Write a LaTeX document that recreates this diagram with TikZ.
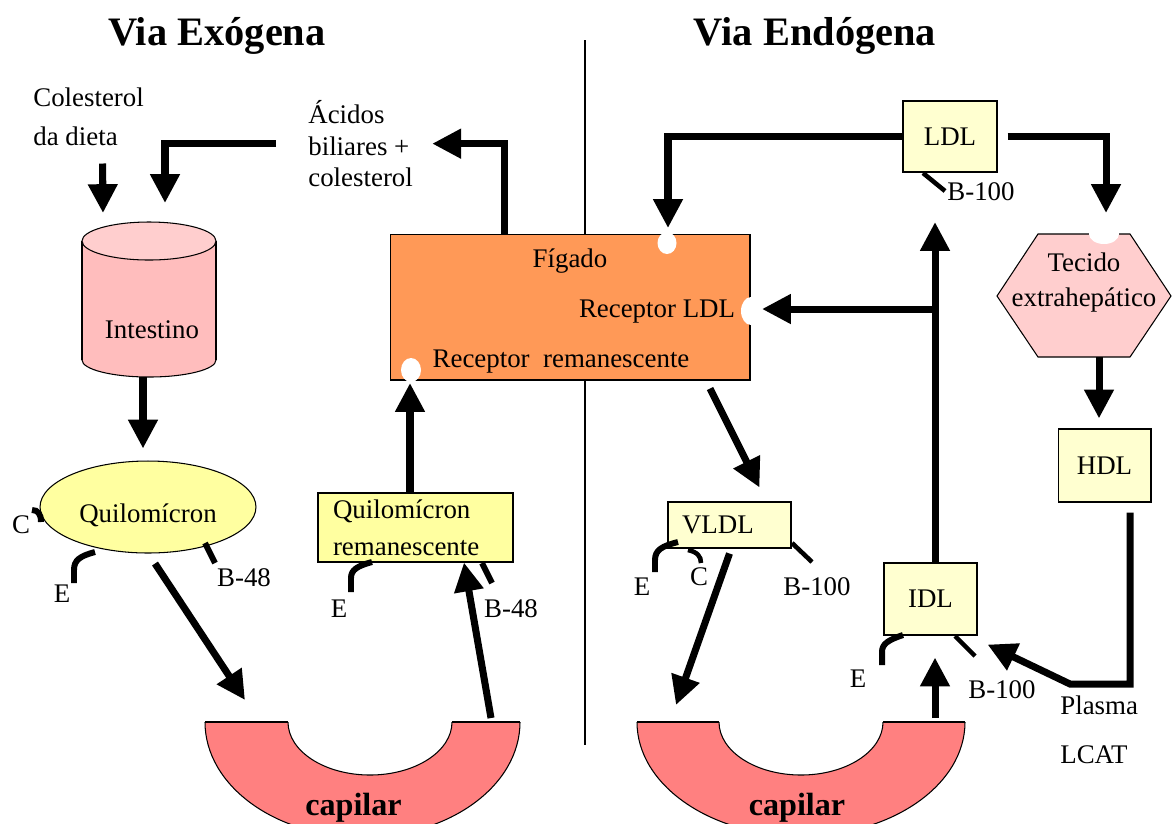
\documentclass[tikz,border=0pt]{standalone}
\usepackage{fontspec}
\setmainfont{Liberation Serif}
\usetikzlibrary{arrows.meta, positioning, calc, shapes.geometric}
\definecolor{palelip}{RGB}{255,255,208}
\definecolor{quiloyel}{RGB}{255,255,160}
\definecolor{liverorg}{RGB}{255,153,87}
\definecolor{intpink}{RGB}{255,189,189}
\definecolor{intlight}{RGB}{255,206,206}
\definecolor{tecpink}{RGB}{255,206,206}
\definecolor{cappink}{RGB}{255,128,128}
\tikzset{
  txt/.style   = {font=\fontsize{15.3}{18}\selectfont, inner sep=0pt},
  ttl/.style   = {font=\fontsize{23}{27}\selectfont\bfseries, inner sep=0pt},
  capl/.style  = {font=\fontsize{18.3}{22}\selectfont\bfseries, inner sep=0pt},
  lip/.style   = {txt, draw=black, line width=0.6pt, fill=palelip},
  flow/.style  = {line width=4pt, -{Triangle[length=16.4pt, width=16pt]}},
  apo/.style   = {line width=3.4pt},
  apot/.style  = {line width=2.6pt},
  notch/.style = {fill=white},
}

\begin{document}
\begin{tikzpicture}[x=0.02cm, y=-0.02cm]
  \useasboundingbox (0,0) rectangle (1172,823);
  \draw[line width=0.6pt] (585,40) -- (585,745);

  \node[ttl, anchor=base] (exo)  at (217,45) {Via Exógena};
  \node[ttl, anchor=base] (endo) at (815,45) {Via Endógena};

  \node[txt, align=left, anchor=north west] (diet) at (33,87) {Colesterol\\[4.7pt]da dieta};
  \node[txt, align=left, anchor=north west] (acid) at (308,100) {Ácidos\\biliares +\\colesterol};

  \filldraw[fill=intpink, line width=0.6pt] (149,360) ellipse (67 and 17);
  \fill[intpink] (82,241) rectangle (216,360);
  \draw[line width=0.6pt] (82,241) -- (82,360) (216,241) -- (216,360);
  \filldraw[fill=intlight, line width=0.6pt] (149,241) ellipse (67 and 19);
  \node[txt, anchor=base] (intes) at (152,338) {Intestino};
  \coordinate (cylA) at (103,213);
  \coordinate (cylB) at (165,203);
  \coordinate (cylC) at (143,377);

  \node[txt, ellipse, draw, line width=0.6pt, fill=quiloyel, minimum width=4.32cm,
        minimum height=1.84cm, text height=18pt, text depth=0pt] (quilo) at (148,507) {Quilomícron};
  \node[txt, draw, line width=0.6pt, fill=quiloyel, text width=3.3cm, inner xsep=0.3cm,
        minimum height=1.38cm, align=left] (qrem) at (415.5,527.5) {Quilomícron\\[3pt]remanescente};

  \node[draw, line width=0.6pt, fill=liverorg, minimum width=7.2cm, minimum height=2.92cm,
        inner sep=0pt] (figado) at (570,307) {};
  \node[txt, anchor=base] (fig)  at (570,267) {Fígado};
  \node[txt, anchor=base] (rldl) at (657,317) {Receptor LDL};
  \node[txt, anchor=base] (rrem) at (561,367) {Receptor\ \ remanescente};
  \fill[notch] (667,243) ellipse (9.5 and 11);
  \fill[notch] (751,311) ellipse (10 and 14);
  \fill[notch] (411,370) ellipse (10 and 12);
  \coordinate (recTop) at (668,228);
  \coordinate (recLDL) at (762,309);
  \coordinate (recRem) at (410,383);

  \node[lip, minimum width=1.88cm, minimum height=1.42cm] (ldl) at (950,136.5) {LDL};
  \node[lip, text width=1.9cm, inner xsep=0.28cm, align=left, minimum height=0.92cm] (vldl) at (729.5,525) {VLDL};
  \node[lip, minimum width=1.86cm, minimum height=1.44cm] (idl) at (930.5,599) {IDL};
  \node[lip, minimum width=1.86cm, minimum height=1.46cm] (hdl) at (1104.5,465.5) {HDL};

  \filldraw[fill=tecpink, line width=0.6pt] (997,296) -- (1038,234) -- (1130,234) -- (1171,296)
        -- (1130,357) -- (1038,357) -- cycle;
  \fill[notch] (1104,234) ellipse (15 and 10);
  \node[txt, align=center, anchor=north] (tec) at (1084,252) {Tecido\\[2pt]extrahepático};
  \coordinate (tecTop) at (1106,213);
  \coordinate (tecBot) at (1099,357);

  \node[txt, align=left, anchor=north west] (lcat) at (1060,695) {Plasma\\[10.4pt]LCAT};
  \coordinate (lcatA) at (1070,684);
  \coordinate (ldlB) at (935,222);

  \begin{scope}
    \clip (0,722) rectangle (1172,823);
    \filldraw[fill=cappink, line width=0.6pt] (362.5,722) ellipse (157.5 and 115);
    \filldraw[fill=white, line width=0.6pt] (370,722) ellipse (82 and 53);
    \filldraw[fill=cappink, line width=0.6pt] (801,722) ellipse (164 and 114);
    \filldraw[fill=white, line width=0.6pt] (801,722) ellipse (82 and 53);
  \end{scope}
  \draw[line width=0.6pt] (205,722) -- (288,722) (452,722) -- (520,722);
  \draw[line width=0.6pt] (637,722) -- (719,722) (883,722) -- (965,722);
  \node[capl, anchor=base] (capL) at (353.5,815) {capilar};
  \node[capl, anchor=base] (capR) at (797,815) {capilar};
  \coordinate (capLa) at (245,700);
  \coordinate (capLb) at (491,718);
  \coordinate (capRa) at (676,705);
  \coordinate (capRb) at (935,718);

  \node[txt, anchor=base] (cQ) at (21,533) {C};
  \node[txt, anchor=base] (eQ) at (62,602) {E};
  \node[txt, anchor=base] (bQ) at (244,586) {B-48};
  \draw[apo] (32,510) .. controls (38,510) and (41,514) .. (41,522);
  \draw[apo] (95,552) .. controls (80,556) and (74,560) .. (74,570) -- (74,583);
  \draw[apo] (205,543) -- (215,563);

  \node[txt, anchor=base] (eR) at (339,617) {E};
  \node[txt, anchor=base] (bR) at (511,617) {B-48};
  \draw[apo] (372,562) .. controls (357,566) and (351,570) .. (351,578) -- (351,592);
  \draw[apo] (482,563) -- (492,583);

  \node[txt, anchor=base] (eV) at (642,595) {E};
  \node[txt, anchor=base] (cV) at (699,585) {C};
  \node[txt, anchor=base] (bV) at (817,595) {B-100};
  \draw[apo] (678,542) .. controls (662,546) and (655,550) .. (655,560) -- (655,572);
  \draw[apot] (688,550) .. controls (697,552) and (701,556) .. (701,563);
  \draw[apot] (792,543) -- (812,562);

  \node[txt, anchor=base] (eI) at (858,687) {E};
  \node[txt, anchor=base] (bI) at (1002,698) {B-100};
  \draw[apo] (903,635) .. controls (888,640) and (882,644) .. (882,652) -- (882,665);
  \draw[apot] (955,636) -- (975,656);

  \node[txt, anchor=base] (bL) at (981,200) {B-100};
  \draw[apot] (923,173) -- (945,191);

  \draw[flow] ([xshift=0.28cm, yshift=-0.34cm]diet.south) -- (cylA);
  \draw[flow] ([xshift=-0.64cm]acid.west) -| (cylB);
  \draw[flow, shorten >=6.8pt] (cylC) -- (cylC |- quilo.north);
  \draw[flow] ([xshift=0.14cm, yshift=-0.2cm]quilo.south) -- (capLa);
  \draw[flow] (capLb) -- ([xshift=0.97cm]qrem.south);
  \draw[flow] (recRem |- qrem.north) -- (recRem);
  \draw[flow] ([xshift=-1.32cm]figado.north) |- ([xshift=0.38cm]acid.east);

  \draw[flow] (ldl.west) -| (recTop);
  \draw[flow] ([xshift=0.2cm]ldl.east) -| (tecTop);
  \draw[flow, shorten >=5.7pt] (tecBot) -- (tecBot |- hdl.north);
  \draw[flow] ([xshift=0.51cm, yshift=-0.2cm]hdl.south) |- (lcatA) -- ([xshift=0.2cm, yshift=-0.18cm]idl.south east);
  \draw[flow] (ldlB |- idl.north) -- (ldlB);
  \draw[flow] (ldlB |- recLDL) -- (recLDL);
  \draw[flow, shorten >=12.5pt] (capRb) -- (capRb |- idl.south);
  \draw[flow] ([xshift=2.8cm, yshift=-0.16cm]figado.south) -- ([xshift=0.6cm, yshift=0.28cm]vldl.north);
  \draw[flow] ([yshift=-0.1cm]vldl.south) -- (capRa);
\end{tikzpicture}
\end{document}
